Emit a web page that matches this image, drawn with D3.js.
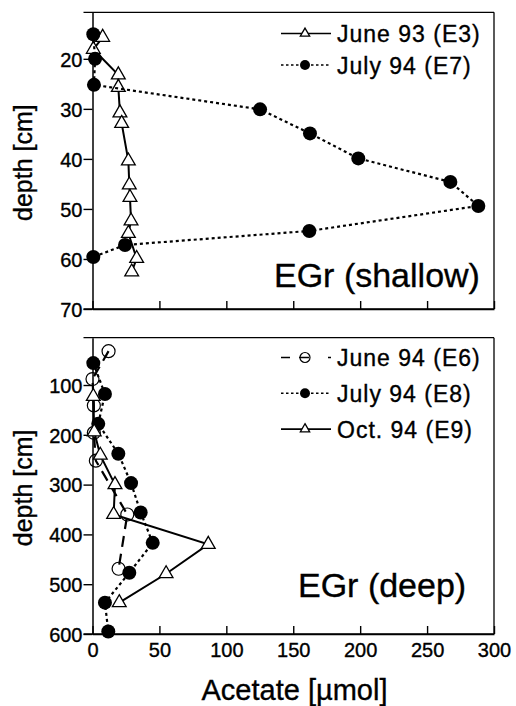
<!DOCTYPE html>
<html>
<head>
<meta charset="utf-8">
<script src="https://cdn.jsdelivr.net/npm/d3@7"></script>
<style>
  body { margin: 0; background: #fff; }
  text { font-family: "Liberation Sans", Arial, Helvetica, sans-serif; fill: #000; stroke: #000; stroke-width: 0.35px; }
</style>
</head>
<body>
<svg id="chart" width="516" height="706"></svg>
<script>
// tick values
const xTicks = [0, 50, 100, 150, 200, 250, 300];
const shallowTicks = [20, 30, 40, 50, 60, 70];
const deepTicks = [100, 200, 300, 400, 500, 600];

// EGr (shallow)
const e3Depth = [15.7, 18.1, 23.2, 25.7, 30.8, 32.9, 40.4, 45.2, 47.7, 52.4, 54.9, 59.9, 62.6];
const e3Acetate = [7.6, 0.6, 19.3, 19.3, 20.5, 21.8, 26.8, 27.5, 28, 28.8, 26.8, 33, 29.3];
const e7Depth = [15.1, 20, 25.2, 30.1, 34.9, 39.9, 44.6, 49.4, 54.4, 57.2, 59.6];
const e7Acetate = [0.6, 1.9, 1.1, 125.2, 162.5, 198.6, 267.4, 288.3, 162, 24.3, 0.6];

// EGr (deep)
const e6Depth = [32, 88, 141, 196, 252, 360, 469];
const e6Acetate = [12, 0, 1, 1, 2.5, 26, 19.5];
const e8Depth = [56, 118, 178, 238, 297, 356, 417, 477, 537, 595];
const e8Acetate = [0.6, 9.3, 4.3, 19.3, 28.8, 36, 45, 27.5, 9.3, 11.8];
const e9Depth = [123, 194, 241, 300, 360, 420, 479, 537];
const e9Acetate = [0.6, 1.3, 5.8, 16.8, 15.8, 86.5, 55, 20];

const svg = d3.select("#chart");

const x = d3.scaleLinear().domain([0, 300]).range([92.5, 494]);
const yTop = d3.scaleLinear().domain([10.7, 70]).range([12.3, 309]);
const yBot = d3.scaleLinear().domain([5, 600]).range([337.7, 634]);

// line / marker styles
const styles = {
  tri:    { dash: null,    marker: "tri" },
  dotted: { dash: "3,3",   marker: "dot" },
  dashed: { dash: "11,7",  marker: "ring" }
};

function drawMarker(g, kind, cx, cy, small) {
  if (kind === "tri") {
    g.append("path")
      .attr("d", d3.symbol().type(d3.symbolTriangle).size(small ? 38 : 82)())
      .attr("transform", `translate(${cx},${cy})`)
      .attr("fill", "#fff").attr("stroke", "#000").attr("stroke-width", 1.3);
  } else if (kind === "dot") {
    g.append("circle").attr("cx", cx).attr("cy", cy).attr("r", small ? 5 : 7)
      .attr("fill", "#000");
  } else {
    g.append("circle").attr("cx", cx).attr("cy", cy).attr("r", small ? 5 : 6.5)
      .attr("fill", "none").attr("stroke", "#000").attr("stroke-width", 1.2);
  }
}

function drawSeries(y, depth, acetate, style) {
  const pts = depth.map((d, i) => [x(acetate[i]), y(d)]);
  const g = svg.append("g");
  g.append("path")
    .attr("d", d3.line()(pts))
    .attr("fill", "none")
    .attr("stroke", "#000")
    .attr("stroke-width", style.dash ? 2.2 : 2)
    .attr("stroke-dasharray", style.dash);
  pts.forEach(p => drawMarker(g, style.marker, p[0], p[1], false));
}

function drawFrame(y, ticks, labels) {
  const [top, bottom] = y.range();
  // y axis
  const ay = svg.append("g")
    .attr("transform", `translate(${x(0)},0)`)
    .call(d3.axisLeft(y).tickValues(ticks).tickSize(9).tickSizeOuter(0).tickPadding(1));
  ay.selectAll("text").style("font-size", "20px").attr("dy", "0.36em");
  // x axis (ticks inward)
  const ax = svg.append("g")
    .attr("transform", `translate(0,${bottom})`)
    .call(d3.axisBottom(x).tickValues(xTicks).tickSizeInner(-8).tickSizeOuter(0).tickPadding(9)
      .tickFormat(labels ? d3.format("d") : ""));
  ax.selectAll("text").style("font-size", "20px");
  svg.selectAll(".domain").attr("stroke-width", 1.5);
  svg.selectAll(".tick line").attr("stroke-width", 1.4);
  // bottom line extends left like a tick, plus top and right frame
  svg.append("line").attr("x1", x(0) - 9).attr("x2", x(300))
    .attr("y1", bottom).attr("y2", bottom).attr("stroke", "#000").attr("stroke-width", 1.5);
  svg.append("line").attr("x1", x(0) - 9).attr("x2", x(300))
    .attr("y1", top).attr("y2", top).attr("stroke", "#000").attr("stroke-width", 1.3);
  svg.append("line").attr("x1", x(300)).attr("x2", x(300))
    .attr("y1", top).attr("y2", bottom).attr("stroke", "#000").attr("stroke-width", 1.3);
  // y title
  svg.append("text")
    .attr("transform", `translate(32,${(top + bottom) / 2 + 2}) rotate(-90)`)
    .attr("text-anchor", "middle")
    .style("font-size", "25px")
    .text("depth [cm]");
}

function drawLegend(items, x0, yStart, step) {
  items.forEach((it, i) => {
    const yy = yStart + i * step;
    const g = svg.append("g");
    g.append("line").attr("x1", x0).attr("x2", x0 + 50).attr("y1", yy).attr("y2", yy)
      .attr("stroke", "#000").attr("stroke-width", 1.6)
      .attr("stroke-dasharray", it.legendDash || it.style.dash);
    drawMarker(g, it.style.marker, x0 + 24, yy, true);
    g.append("text").attr("x", x0 + 56).attr("y", yy + 8.5)
      .style("font-size", "23px").style("letter-spacing", "1px")
      .text(it.label);
  });
}

// ---- top panel
drawFrame(yTop, shallowTicks, false);
drawSeries(yTop, e3Depth, e3Acetate, styles.tri);
drawSeries(yTop, e7Depth, e7Acetate, styles.dotted);
drawLegend([
  { label: "June 93 (E3)", style: styles.tri },
  { label: "July 94 (E7)", style: styles.dotted, legendDash: "2.5,2.5" }
], 281, 33.5, 31.5);
svg.append("text").attr("x", 274).attr("y", 287).style("font-size", "34px").text("EGr (shallow)");

// ---- bottom panel
drawFrame(yBot, deepTicks, true);
drawSeries(yBot, e6Depth, e6Acetate, styles.dashed);
drawSeries(yBot, e8Depth, e8Acetate, styles.dotted);
drawSeries(yBot, e9Depth, e9Acetate, styles.tri);
drawLegend([
  { label: "June 94 (E6)", style: styles.dashed, legendDash: "9,9,10,19,3" },
  { label: "July 94 (E8)", style: styles.dotted, legendDash: "2.5,2.5" },
  { label: "Oct. 94 (E9)", style: styles.tri }
], 281, 357.5, 35.8);
svg.append("text").attr("x", 298).attr("y", 597).style("font-size", "34px").text("EGr (deep)");

// x title
svg.append("text").attr("x", 294.5).attr("y", 700).attr("text-anchor", "middle")
  .style("font-size", "29px").text("Acetate [\u00b5mol]");
</script>
</body>
</html>
